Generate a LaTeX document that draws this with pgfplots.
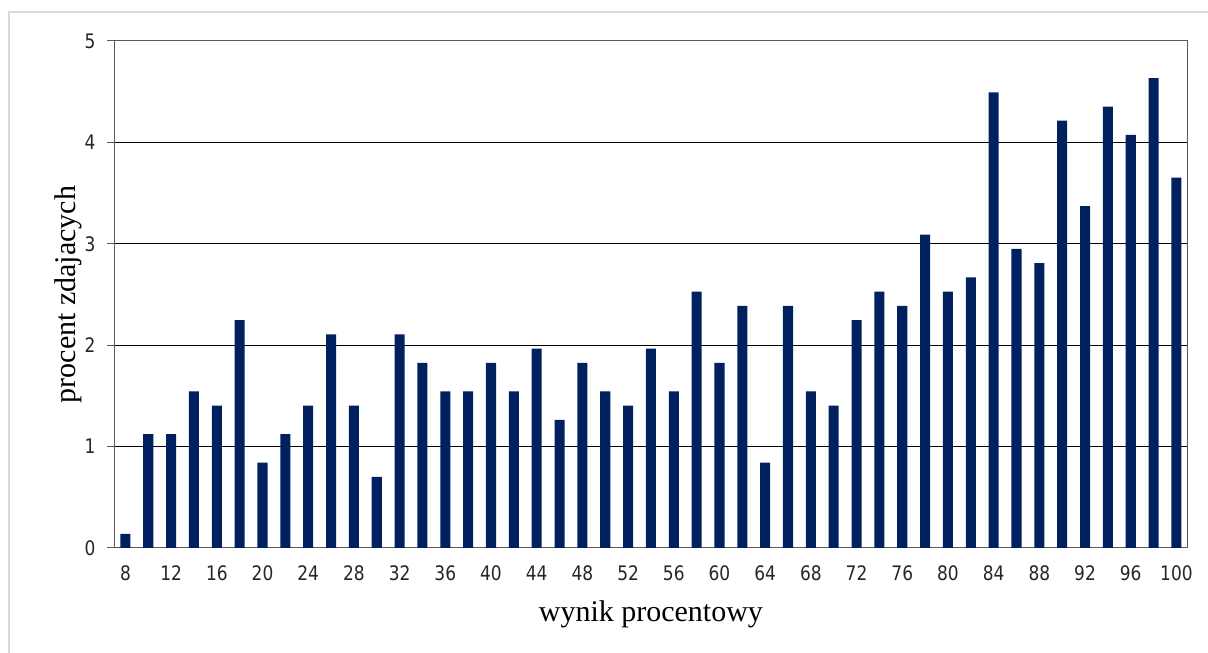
\documentclass[border=0pt]{standalone}
\usepackage{fontspec}
\setmainfont{Liberation Serif}
\newfontfamily\tickfont[FakeStretch=0.85]{DejaVu Sans}
\usepackage{pgfplots}
\pgfplotsset{compat=1.18}
\definecolor{barblue}{RGB}{0,32,96}
\definecolor{axgray}{RGB}{90,90,90}
\definecolor{framegray}{RGB}{218,218,218}
\begin{document}
\begin{tikzpicture}[x=1pt,y=1pt]
\useasboundingbox (0,0) rectangle (1208,653);
\draw[framegray, line width=2pt] (9,0) -- (9,641) -- (1208,641);
\begin{axis}[
  at={(114pt,105pt)}, anchor=south west,
  scale only axis, width=1074pt, height=507pt,
  xmin=7, xmax=101, ymin=0, ymax=5,
  ybar, bar width=0.88, bar shift=0pt,
  xtick={8,12,...,100},
  minor xtick={7,9,...,101},
  ytick={0,1,2,3,4,5},
  tick align=outside,
  xtick pos=bottom, ytick pos=left,
  major tick length=7pt, minor tick length=7pt,
  xtick style={draw=none},
  minor x tick style={axgray, line width=1pt},
  ytick style={axgray, line width=1pt},
  ymajorgrids, grid style={black, line width=1pt},
  axis line style={axgray, line width=1pt},
  /pgf/number format/assume math mode=true,
  ticklabel style={font=\fontsize{20}{22}\tickfont, text=black!85},
  yticklabel style={xshift=-8pt},
  xticklabel style={yshift=-7pt, text height=15pt, text depth=0pt},
  xlabel={wynik procentowy}, ylabel={procent zdajacych},
  label style={font=\fontsize{30}{35}\selectfont},
  xlabel style={at={(axis description cs:0.5,0)}, anchor=center, yshift=-66pt},
  ylabel style={at={(axis description cs:0,0.5)}, anchor=center, yshift=46pt},
]
\addplot[fill=barblue, draw=none] coordinates {
(8,0.1404) (10,1.1236) (12,1.1236) (14,1.5449) (16,1.4045) (18,2.2472)
(20,0.8427) (22,1.1236) (24,1.4045) (26,2.1067) (28,1.4045) (30,0.7022)
(32,2.1067) (34,1.8258) (36,1.5449) (38,1.5449) (40,1.8258) (42,1.5449)
(44,1.9663) (46,1.2640) (48,1.8258) (50,1.5449) (52,1.4045) (54,1.9663)
(56,1.5449) (58,2.5281) (60,1.8258) (62,2.3876) (64,0.8427) (66,2.3876)
(68,1.5449) (70,1.4045) (72,2.2472) (74,2.5281) (76,2.3876) (78,3.0899)
(80,2.5281) (82,2.6685) (84,4.4944) (86,2.9494) (88,2.8090) (90,4.2135)
(92,3.3708) (94,4.3539) (96,4.0730) (98,4.6348) (100,3.6517)
};
\end{axis}
\end{tikzpicture}
\end{document}
